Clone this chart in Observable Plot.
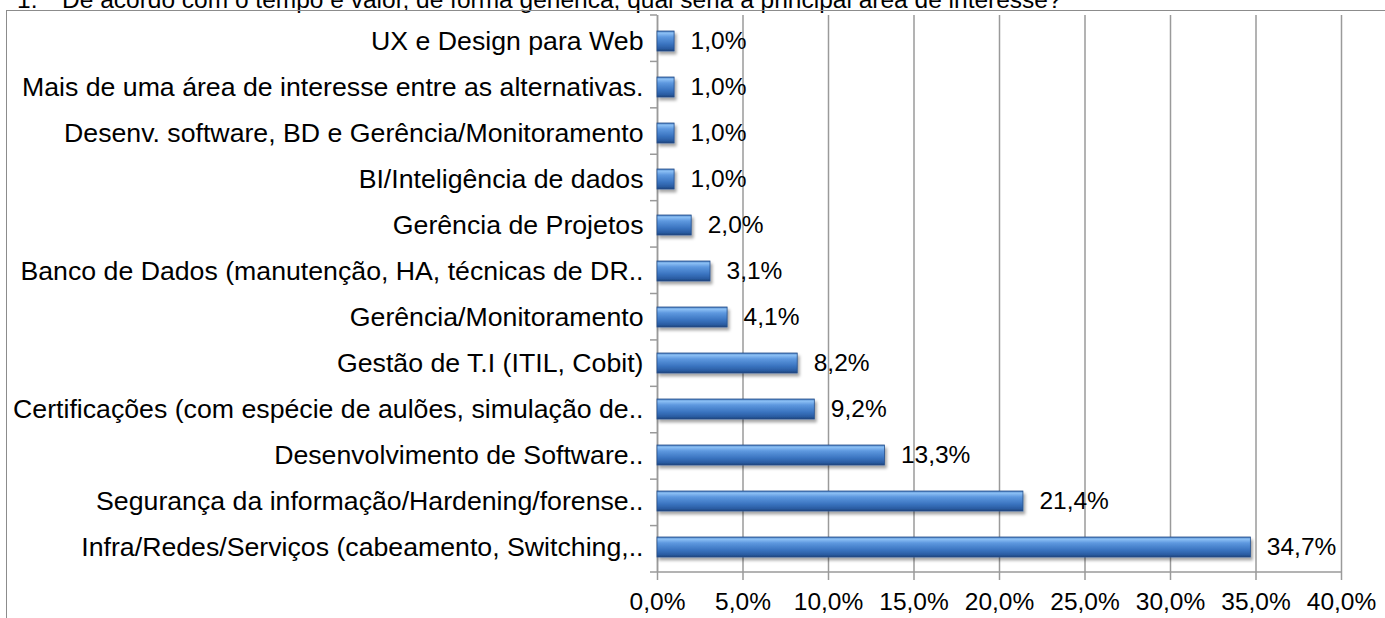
<!DOCTYPE html>
<html><head><meta charset="utf-8">
<script src="https://cdn.jsdelivr.net/npm/d3@7"></script>
<script src="https://cdn.jsdelivr.net/npm/@observablehq/plot@0.6"></script>
<style>
body{margin:0;background:#fff;overflow:hidden}
#wrap{position:relative;width:1385px;height:618px;overflow:hidden;font-family:Arial,"Liberation Sans",sans-serif;background:#fff}
#title{position:absolute;top:-14px;left:0;width:1385px;height:28px;font-size:24.5px;line-height:28px;white-space:pre;color:#000}
#title span{position:absolute;top:0}
#box{position:absolute;left:6px;top:10px;width:1400px;height:700px;border:1.5px solid #8c8c8c;box-sizing:border-box}
#chart{position:absolute;left:0;top:0}
</style></head><body>
<div id="wrap">
<div id="title"><span style="left:17px">1.</span><span style="left:62px">De acordo com o tempo e valor, de forma genérica, qual seria a principal área de interesse?</span></div>
<div id="box"></div>
<div id="chart"></div>
</div>
<script>
const categories = [
  "UX e Design para Web",
  "Mais de uma área de interesse entre as alternativas.",
  "Desenv. software, BD e Gerência/Monitoramento",
  "BI/Inteligência de dados",
  "Gerência de Projetos",
  "Banco de Dados (manutenção, HA, técnicas de DR..",
  "Gerência/Monitoramento",
  "Gestão de T.I (ITIL, Cobit)",
  "Certificações (com espécie de aulões, simulação de..",
  "Desenvolvimento de Software..",
  "Segurança da informação/Hardening/forense..",
  "Infra/Redes/Serviços (cabeamento, Switching,.."
];
const values = [1.0, 1.0, 1.0, 1.0, 2.0, 3.1, 4.1, 8.2, 9.2, 13.3, 21.4, 34.7];
const xTicks = [0, 5, 10, 15, 20, 25, 30, 35, 40];

const loc = d3.formatLocale({decimal: ",", thousands: ".", grouping: [3], currency: ["R$", ""]});
const f1 = loc.format(".1f");
const pct = d => f1(d) + "%";
const data = categories.map((c, i) => ({cat: c, v: values[i]}));

const W = 1385, H = 618;
const mTop = 15, mBottom = 46, mLeft = 657, mRight = 44;
const gridColor = "#9a9a9a";

// bottom axis line and category-boundary ticks on the y axis, derived from plot dimensions
const frameDeco = (index, scales, vals, dims) => {
  const g = d3.create("svg:g");
  const top = dims.marginTop, bottom = dims.height - dims.marginBottom;
  const left = dims.marginLeft, right = dims.width - dims.marginRight;
  const n = categories.length;
  const step = (bottom - top) / n;
  g.append("line").attr("x1", left).attr("x2", right).attr("y1", bottom).attr("y2", bottom)
    .attr("stroke", gridColor).attr("stroke-width", 1.5);
  for (let i = 0; i <= n; i++) {
    const yy = top + i * step;
    g.append("line").attr("x1", left - 7).attr("x2", left).attr("y1", yy).attr("y2", yy)
      .attr("stroke", gridColor).attr("stroke-width", 1.5);
  }
  return g.node();
};

const svg = Plot.plot({
  width: W, height: H,
  marginTop: mTop, marginBottom: mBottom, marginLeft: mLeft, marginRight: mRight,
  style: {fontFamily: "Arial, 'Liberation Sans', sans-serif", fontSize: "24px", background: "transparent", color: "#000"},
  x: {domain: [0, 40], axis: null},
  y: {domain: categories, paddingInner: 0.57, paddingOuter: 0.285, axis: null},
  marks: [
    Plot.gridX(xTicks, {stroke: gridColor, strokeOpacity: 1, strokeWidth: 1.5}),
    Plot.axisX({ticks: xTicks, tickFormat: pct, tickSize: 8, tickPadding: 12, stroke: gridColor, strokeWidth: 1.5, fill: "#000", fontSize: 24.5, label: null}),
    Plot.axisY({tickSize: 0, tickPadding: 14, fill: "#000", fontSize: 26.7, label: null}),
    Plot.ruleX([0], {stroke: gridColor, strokeWidth: 1.5}),
    frameDeco,
    Plot.barX(data, {x: "v", y: "cat", fill: "url(#barGrad)", stroke: "#244f8c", strokeWidth: 0.8}),
    Plot.text(data, {x: "v", y: "cat", text: d => pct(d.v), textAnchor: "start", dx: 16, fontSize: 24.5, fill: "#000"})
  ]
});

const defs = d3.select(svg).insert("defs", ":first-child");
const grad = defs.append("linearGradient").attr("id", "barGrad")
  .attr("x1", 0).attr("y1", 0).attr("x2", 0).attr("y2", 1);
[[0, "#3f74b8"], [0.1, "#8ec2f6"], [0.3, "#5d98df"], [0.65, "#3b74c0"], [0.88, "#2a5ca2"], [1, "#1c4479"]]
  .forEach(([o, c]) => grad.append("stop").attr("offset", o).attr("stop-color", c));
const flt = defs.append("filter").attr("id", "shadow")
  .attr("x", "-20%").attr("y", "-40%").attr("width", "150%").attr("height", "200%");
flt.append("feDropShadow").attr("dx", 2).attr("dy", 3).attr("stdDeviation", 1.5)
  .attr("flood-color", "#000").attr("flood-opacity", 0.35);
d3.select(svg).selectAll("g[aria-label='bar'] rect").attr("filter", "url(#shadow)");

document.getElementById("chart").appendChild(svg);
</script>
</body></html>
